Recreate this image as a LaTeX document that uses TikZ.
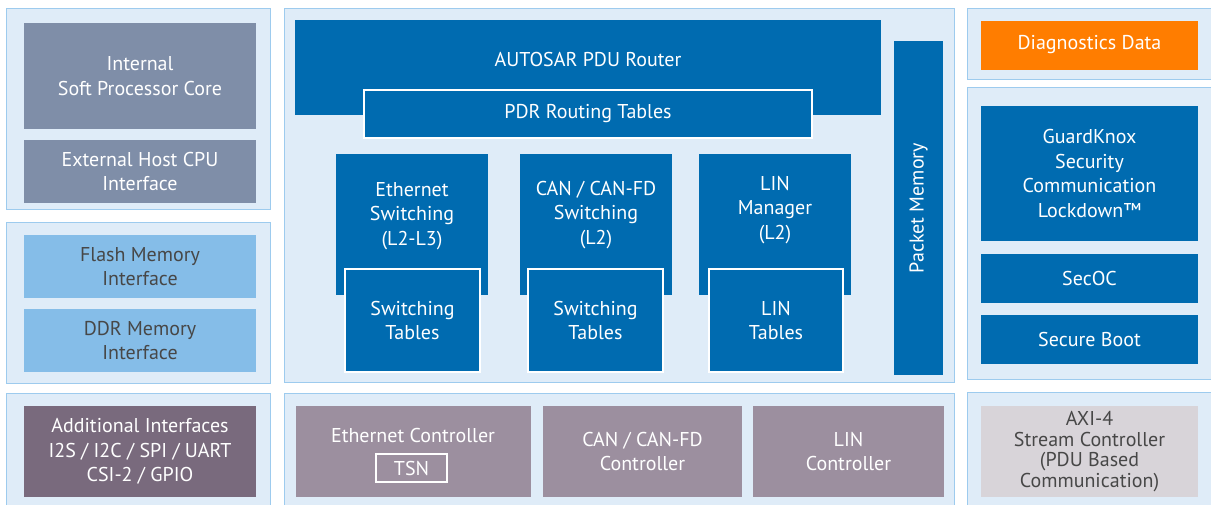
\documentclass[tikz,border=0pt]{standalone}
\usepackage{fontspec}
\setmainfont{PT Sans}
\definecolor{panelbg}{HTML}{DFECF8}
\definecolor{panelrule}{HTML}{9DCBEE}
\definecolor{coreblue}{HTML}{006BB0}
\definecolor{slate}{HTML}{7F8EA8}
\definecolor{memblue}{HTML}{85BDE8}
\definecolor{plum}{HTML}{796A7D}
\definecolor{mauve}{HTML}{9C8F9F}
\definecolor{ashgray}{HTML}{D8D4D9}
\definecolor{diagorange}{HTML}{FF7D00}
\definecolor{inktext}{HTML}{474747}
\begin{document}
\begin{tikzpicture}[x=0.5pt,y=-0.5pt,
	dims/.style 2 args={minimum width=#1*0.5pt,minimum height=#2*0.5pt},
	box/.style={inner sep=0pt,outer sep=0pt,align=center,font=\fontsize{10}{12.25}\selectfont},
	panel/.style={box,fill=panelbg,draw=panelrule,line width=0.5pt},
	blue/.style={box,fill=coreblue,text=white},
	inset/.style={blue,draw=white,line width=0.8pt},
	slatebox/.style={box,fill=slate,text=white},
	membox/.style={box,fill=memblue,text=inktext},
	ctrl/.style={box,fill=mauve,text=white},
	label/.style={box,text=white}]
	\useasboundingbox (0,0) rectangle (1211,504);
	\node[panel,dims={264}{201}] (cpupanel) at (138,108.5) {};
	\node[panel,dims={264}{161}] (mempanel) at (138,302.5) {};
	\node[panel,dims={264}{117}] (ifpanel) at (138,451.5) {};
	\node[panel,dims={670}{374}] (routepanel) at (619,195) {};
	\node[panel,dims={670}{117}] (ctrlpanel) at (619,451.5) {};
	\node[panel,dims={249}{71}] (diagpanel) at (1091.5,43.5) {};
	\node[panel,dims={249}{292}] (secpanel) at (1091.5,233) {};
	\node[panel,dims={249}{118}] (axipanel) at (1091.5,451) {};
	\node[slatebox,dims={232}{106}] (softcore) at (140,76) {Internal\\Soft Processor Core};
	\node[slatebox,dims={232}{63}] (hostcpu) at (140,171.5) {External Host CPU\\Interface};
	\node[membox,dims={232}{63}] (flash) at (140,266.5) {Flash Memory\\Interface};
	\node[membox,dims={232}{63}] (ddr) at (140,340.5) {DDR Memory\\Interface};
	\node[box,fill=plum,text=white,dims={232}{91}] (addif) at (140,451.5) {Additional Interfaces\\I2S / I2C / SPI / UART\\CSI-2 / GPIO};
	\node[blue,dims={586}{95}] (router) at (588,67.5) {};
	\node[label] (routertext) at (588,59) {AUTOSAR PDU Router};
	\node[inset,dims={448}{48}] (pdr) at (588,114) {PDR Routing Tables};
	\node[blue,dims={152}{141}] (ethsw) at (412,224.5) {};
	\node[label] (ethswtext) at (412,216) {Ethernet\\Switching\\(L2-L3)};
	\node[inset,dims={135}{103}] (ethtab) at (412.5,320.5) {Switching\\Tables};
	\node[blue,dims={152}{141}] (cansw) at (596,224.5) {};
	\node[label] (canswtext) at (596,215) {CAN / CAN-FD\\Switching\\(L2)};
	\node[inset,dims={135}{103}] (cantab) at (595.5,320.5) {Switching\\Tables};
	\node[blue,dims={152}{141}] (linmgr) at (775,224.5) {};
	\node[label] (linmgrtext) at (775,210) {LIN\\Manager\\(L2)};
	\node[inset,dims={134}{103}] (lintab) at (776,320.5) {LIN\\Tables};
	\node[blue,dims={49}{334}] (pktmem) at (918.5,208) {};
	\node[label,rotate=90] (pktmemtext) at (pktmem.center) {Packet Memory};
	\node[ctrl,dims={235}{91}] (ethctrl) at (413.5,451.5) {};
	\node[label] (ethctrltext) at (413,435) {Ethernet Controller};
	\node[box,draw=white,line width=0.6pt,text=white,dims={71}{28}] (tsn) at (411.5,468) {TSN};
	\node[ctrl,dims={199}{91}] (canctrl) at (642.5,451.5) {CAN / CAN-FD\\Controller};
	\node[ctrl,dims={191}{91}] (linctrl) at (848.5,451.5) {LIN\\Controller};
	\node[box,fill=diagorange,text=white,dims={217}{49}] (diag) at (1089.5,45) {Diagnostics Data};
	\node[blue,dims={217}{135}] (guard) at (1089.5,173.5) {GuardKnox\\Security\\Communication\\Lockdown™};
	\node[blue,dims={217}{49}] (secoc) at (1089.5,278.5) {SecOC};
	\node[blue,dims={217}{49}] (secboot) at (1089.5,339.5) {Secure Boot};
	\node[box,fill=ashgray,text=inktext,dims={217}{91},font=\fontsize{10}{10.2}\selectfont] (axi) at (1089.5,451.5) {AXI-4\\Stream Controller\\(PDU Based\\Communication)};
\end{tikzpicture}
\end{document}
